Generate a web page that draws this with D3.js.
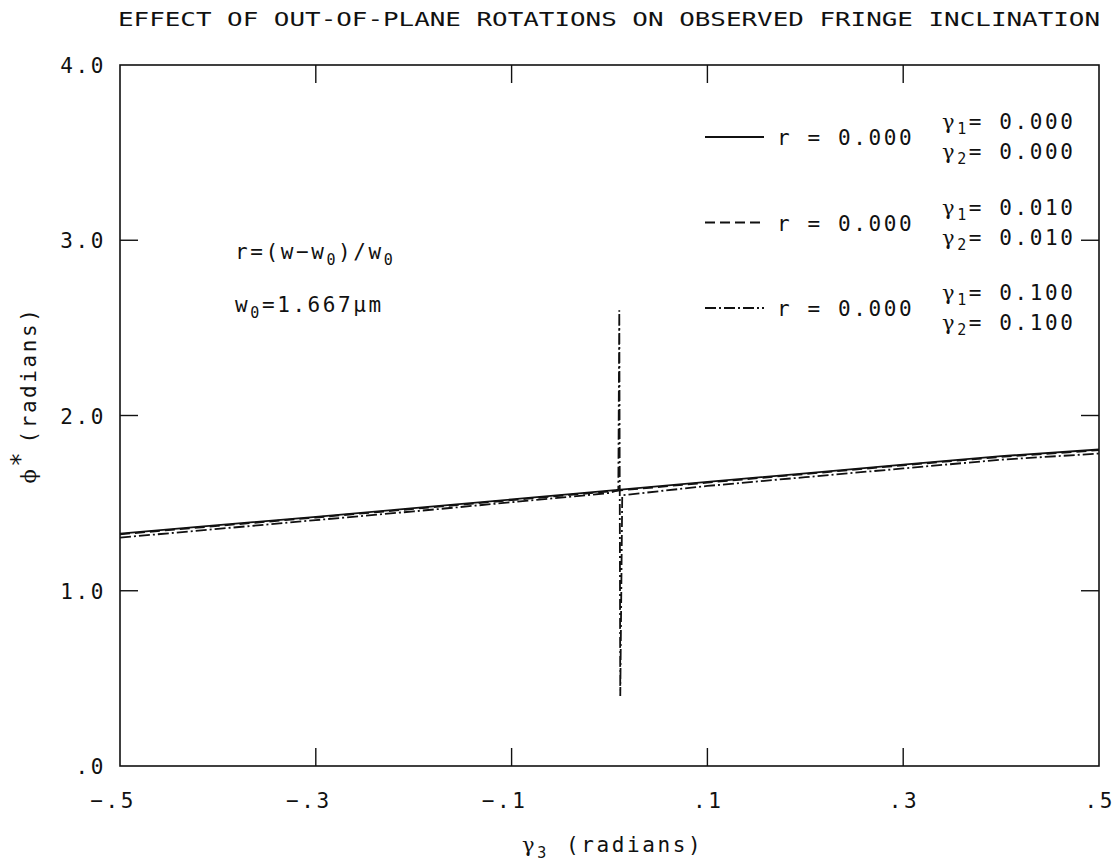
<!DOCTYPE html>
<html>
<head>
<meta charset="utf-8">
<script src="https://cdn.jsdelivr.net/npm/d3@7"></script>
<style>
  body { margin: 0; background: #fff; }
  text { font-family: "DejaVu Sans Mono", monospace; fill: #111; }
</style>
</head>
<body>
<script>
const WIDTH = 1120;
const HEIGHT = 867;

// gamma3 (radians) along the x axis
const gamma3 = [-0.5, -0.4, -0.3, -0.2, -0.1, 0.0, 0.1, 0.2, 0.3, 0.4, 0.5];
// phi* for gamma1 = gamma2 = 0.000
const phiSolid = [1.326, 1.374, 1.422, 1.471, 1.521, 1.571, 1.621, 1.670, 1.720, 1.768, 1.806];
// phi* for gamma1 = gamma2 = 0.010 (nearly on top of the solid one)
const phiDashed = [1.322, 1.370, 1.418, 1.467, 1.517, 1.567, 1.617, 1.666, 1.716, 1.764, 1.802];
// phi* for gamma1 = gamma2 = 0.100, with the jump near gamma3 = 0.01
const gamma3Spike = [-0.5, -0.4, -0.3, -0.2, -0.1, 0.0, 0.009, 0.010, 0.011, 0.013, 0.1, 0.2, 0.3, 0.4, 0.5];
const phiSpike = [1.303, 1.353, 1.403, 1.453, 1.505, 1.558, 1.575, 2.60, 0.40, 1.545, 1.598, 1.648, 1.698, 1.748, 1.783];

const xTicks = [-0.5, -0.3, -0.1, 0.1, 0.3, 0.5];
const xTickLabels = ['\u2212.5', '\u2212.3', '\u2212.1', '.1', '.3', '.5'];
const yTicks = [0, 1, 2, 3, 4];
const yTickLabels = ['.0', '1.0', '2.0', '3.0', '4.0'];

const legendDash = ['none', '10,5', '11,3,2,3'];
const legendR = ['0.000', '0.000', '0.000'];
const legendG1 = ['0.000', '0.010', '0.100'];
const legendG2 = ['0.000', '0.010', '0.100'];

const svg = d3.select('body').append('svg')
    .attr('width', WIDTH)
    .attr('height', HEIGHT);

const x = d3.scaleLinear().domain([-0.5, 0.5]).range([120, 1099]);
const y = d3.scaleLinear().domain([0, 4]).range([766, 65]);

const TICK = 18;
const FONT = 21;
const SPACING = 2.6;

// frame
svg.append('rect')
  .attr('x', x(-0.5)).attr('y', y(4))
  .attr('width', x(0.5) - x(-0.5)).attr('height', y(0) - y(4))
  .attr('fill', 'none').attr('stroke', '#111').attr('stroke-width', 1.6);

// ticks pointing inward on all four sides
const inner = xTicks.slice(1, -1);
inner.forEach(t => {
  svg.append('line').attr('x1', x(t)).attr('x2', x(t))
    .attr('y1', y(0)).attr('y2', y(0) - TICK)
    .attr('stroke', '#111').attr('stroke-width', 1.4);
  svg.append('line').attr('x1', x(t)).attr('x2', x(t))
    .attr('y1', y(4)).attr('y2', y(4) + TICK)
    .attr('stroke', '#111').attr('stroke-width', 1.4);
});
yTicks.slice(1, -1).forEach(t => {
  svg.append('line').attr('x1', x(-0.5)).attr('x2', x(-0.5) + TICK)
    .attr('y1', y(t)).attr('y2', y(t))
    .attr('stroke', '#111').attr('stroke-width', 1.4);
  svg.append('line').attr('x1', x(0.5)).attr('x2', x(0.5) - TICK)
    .attr('y1', y(t)).attr('y2', y(t))
    .attr('stroke', '#111').attr('stroke-width', 1.4);
});

// tick labels
xTicks.forEach((t, i) => {
  svg.append('text')
    .attr('x', x(t) + 16).attr('y', 808)
    .attr('text-anchor', 'end')
    .attr('font-size', FONT).attr('letter-spacing', SPACING)
    .text(xTickLabels[i]);
});
yTicks.forEach((t, i) => {
  svg.append('text')
    .attr('x', 106).attr('y', y(t) + 8)
    .attr('text-anchor', 'end')
    .attr('font-size', FONT).attr('letter-spacing', SPACING)
    .text(yTickLabels[i]);
});

// title
svg.append('text')
  .attr('x', 118).attr('y', 26)
  .attr('font-size', 20)
  .attr('textLength', 982).attr('lengthAdjust', 'spacingAndGlyphs')
  .text('EFFECT OF OUT-OF-PLANE ROTATIONS ON OBSERVED FRINGE INCLINATION');

// x axis label
const xl = svg.append('text')
  .attr('x', 522).attr('y', 852)
  .attr('font-size', FONT).attr('letter-spacing', SPACING);
xl.append('tspan').attr('font-family', 'DejaVu Serif').text('\u03b3');
xl.append('tspan').attr('font-size', 15).attr('dy', 6).text('3');
xl.append('tspan').attr('dy', -6).attr('x', 566).text('(radians)');

// y axis label
const yl = svg.append('text')
  .attr('transform', 'translate(36,395) rotate(-90)')
  .attr('text-anchor', 'middle')
  .attr('font-size', FONT).attr('letter-spacing', SPACING);
yl.append('tspan').attr('font-family', 'DejaVu Serif').text('\u03d5');
yl.append('tspan').attr('font-size', 24).attr('dy', -8).text('*');
yl.append('tspan').attr('dy', 8).attr('dx', 6).text('(radians)');

// annotations
const a1 = svg.append('text').attr('x', 235).attr('y', 259)
  .attr('font-size', FONT).attr('letter-spacing', SPACING);
a1.append('tspan').text('r=(w\u2212w');
a1.append('tspan').attr('font-size', 15).attr('dy', 6).text('0');
a1.append('tspan').attr('dy', -6).text(')/w');
a1.append('tspan').attr('font-size', 15).attr('dy', 6).text('0');

const a2 = svg.append('text').attr('x', 235).attr('y', 312)
  .attr('font-size', FONT).attr('letter-spacing', SPACING);
a2.append('tspan').text('w');
a2.append('tspan').attr('font-size', 15).attr('dy', 6).text('0');
a2.append('tspan').attr('dy', -6).text('=1.667\u03bcm');

// curves
const line = d3.line().x(d => x(d[0])).y(d => y(d[1]));
const series = [
  { pts: d3.zip(gamma3, phiSolid), dash: legendDash[0] },
  { pts: d3.zip(gamma3, phiDashed), dash: legendDash[1] },
  { pts: d3.zip(gamma3Spike, phiSpike), dash: legendDash[2] }
];
series.forEach(s => {
  svg.append('path')
    .attr('d', line(s.pts))
    .attr('fill', 'none')
    .attr('stroke', '#111')
    .attr('stroke-width', 1.8)
    .attr('stroke-dasharray', s.dash);
});

// legend
legendDash.forEach((dash, i) => {
  const cy = 137 + i * 85.5;
  svg.append('line')
    .attr('x1', 705).attr('x2', 764)
    .attr('y1', cy).attr('y2', cy)
    .attr('stroke', '#111').attr('stroke-width', 1.8)
    .attr('stroke-dasharray', dash);
  svg.append('text')
    .attr('x', 777).attr('y', cy + 8)
    .attr('font-size', FONT).attr('letter-spacing', SPACING)
    .attr('xml:space', 'preserve')
    .text('r = ' + legendR[i]);
  [[legendG1[i], '1', -15], [legendG2[i], '2', 15]].forEach(([v, sub, dy]) => {
    const t = svg.append('text')
      .attr('x', 942).attr('y', cy + dy + 7)
      .attr('font-size', FONT).attr('letter-spacing', SPACING)
      .attr('xml:space', 'preserve');
    t.append('tspan').attr('font-family', 'DejaVu Serif').text('\u03b3');
    t.append('tspan').attr('font-size', 15).attr('dy', 5).text(sub);
    t.append('tspan').attr('dy', -5).text('= ' + v);
  });
});
</script>
</body>
</html>
